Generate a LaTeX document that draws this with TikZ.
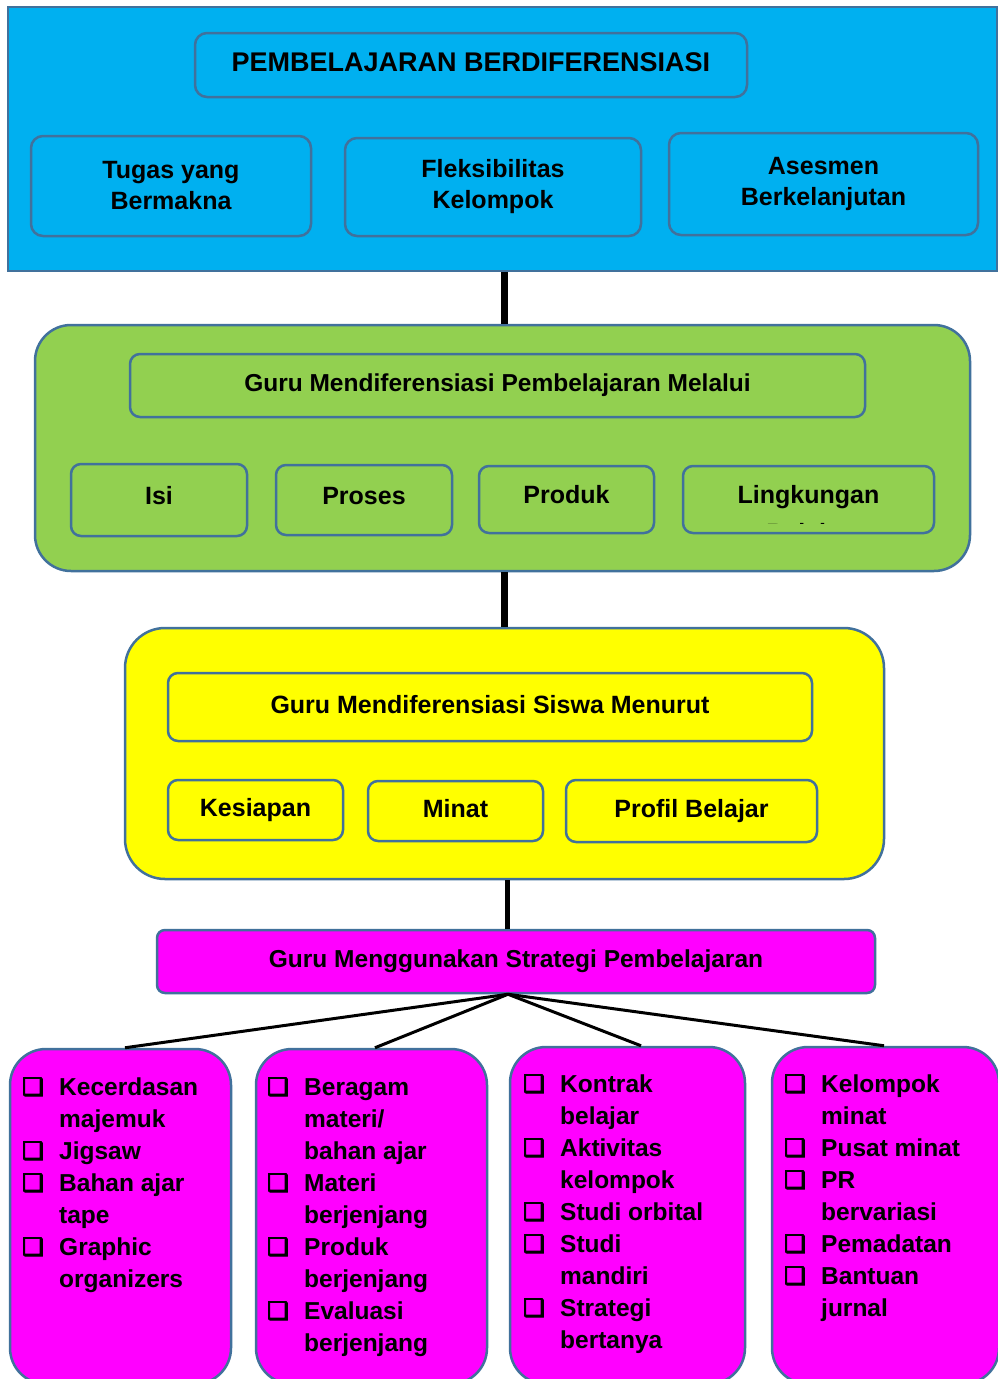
\documentclass[tikz,border=0pt]{standalone}
\usepackage{fontspec}
\setmainfont{Liberation Sans}
\newfontfamily\symf{DejaVu Sans}[FakeBold=4]
\definecolor{cblue}{HTML}{00B0F0}
\definecolor{cgreen}{HTML}{92D050}
\definecolor{cyel}{HTML}{FFFF00}
\definecolor{cmag}{HTML}{FF00FF}
\definecolor{bord}{HTML}{41719C}
\newcommand\mylist[5]{%
  \foreach \f/\t [count=\i] in {#5} {
    \node[item] (#1t\i) at (#3, {#4+32*(\i-1)}) {\t};
    \ifnum\f=1 \node[bul] (#1b\i) at (#2, {#4+32*(\i-1)}) {❑};\fi
  }}
\begin{document}
\begin{tikzpicture}[x=1pt,y=-1pt,
  box/.style={draw=bord, line width=2.5pt, rounded corners=12pt, inner sep=0pt,
    font=\bfseries\fontsize{25}{31}\selectfont, align=center},
  one/.style={text height=18pt, text depth=6pt},
  up/.style={text height=18pt, text depth=10pt},
  conn/.style={line width=7pt, black},
  fanl/.style={line width=3pt, black},
  item/.style={anchor=base west, inner sep=0pt, font=\bfseries\fontsize{24.5}{32}\selectfont},
  bul/.style={anchor=base west, inner sep=0pt, font=\symf\bfseries\fontsize{24}{24}\selectfont},
]
\useasboundingbox (0,0) rectangle (997,1379);
\fill[white] (0,0) rectangle (997,1379);

% top blue block
\node[box, sharp corners, fill=cblue, line width=2pt, minimum width=989pt, minimum height=264pt] (blue) at (502.5,139) {};
\node[box, one, fill=cblue, minimum width=552pt, minimum height=64pt, font=\bfseries\fontsize{27}{31}\selectfont] (title) at (471,65) {PEMBELAJARAN BERDIFERENSIASI};
\node[box, fill=cblue, minimum width=280pt, minimum height=100pt] (tugas) at (171,186) {Tugas yang\\Bermakna};
\node[box, fill=cblue, minimum width=296pt, minimum height=98pt] (fleks) at (493,187) {Fleksibilitas\\Kelompok};
\node[box, fill=cblue, minimum width=309pt, minimum height=102pt] (ases) at (823.5,184) {Asesmen\\Berkelanjutan};

% green block
\node[box, rounded corners=36pt, fill=cgreen, minimum width=935pt, minimum height=246pt] (green) at (502.5,448) {};
\node[box, one, rounded corners=10pt, fill=cgreen, minimum width=735pt, minimum height=63pt, font=\bfseries\fontsize{24.5}{31}\selectfont] (melalui) at (497.5,385.5) {Guru Mendiferensiasi Pembelajaran Melalui};
\node[box, up, rounded corners=10pt, fill=cgreen, minimum width=176pt, minimum height=72pt] (isi) at (159,500) {Isi};
\node[box, up, rounded corners=10pt, fill=cgreen, minimum width=176pt, minimum height=70pt] (proses) at (364,500) {Proses};
\node[box, up, rounded corners=10pt, fill=cgreen, minimum width=175pt, minimum height=67pt] (produk) at (566.5,499.5) {Produk};
\node[box, up, rounded corners=10pt, fill=cgreen, minimum width=251pt, minimum height=67pt] (lingk) at (808.5,499.5) {Lingkungan};
\begin{scope}
  \clip (690,470) rectangle (930,523);
  \node[anchor=base, inner sep=0pt, font=\bfseries\fontsize{25}{31}\selectfont] (lingb) at (808,541) {Belajar};
\end{scope}

% yellow block
\node[box, rounded corners=40pt, fill=cyel, minimum width=759pt, minimum height=251pt] (yellow) at (504.5,753.5) {};
\node[box, one, rounded corners=10pt, fill=cyel, minimum width=644pt, minimum height=68pt] (menurut) at (490,707) {Guru Mendiferensiasi Siswa Menurut};
\node[box, one, rounded corners=10pt, fill=cyel, minimum width=175pt, minimum height=60pt] (kes) at (255.5,810) {Kesiapan};
\node[box, one, rounded corners=10pt, fill=cyel, minimum width=175pt, minimum height=60pt] (minat) at (455.5,811) {Minat};
\node[box, one, rounded corners=10pt, fill=cyel, minimum width=251pt, minimum height=62pt] (profil) at (691.5,811) {Profil Belajar};

% strategy
\node[box, one, rounded corners=8pt, fill=cmag, minimum width=718pt, minimum height=63pt, font=\bfseries\fontsize{24.5}{31}\selectfont] (strat) at (516,961.5) {Guru Menggunakan Strategi Pembelajaran};

% list boxes
\node[box, rounded corners=36pt, fill=cmag, minimum width=221pt, minimum height=335pt] (l1) at (120.5,1216.5) {};
\node[box, rounded corners=36pt, fill=cmag, minimum width=231pt, minimum height=335pt] (l2) at (371.5,1216.5) {};
\node[box, rounded corners=36pt, fill=cmag, minimum width=235pt, minimum height=337pt] (l3) at (627.5,1215.5) {};
\node[box, rounded corners=36pt, fill=cmag, minimum width=227pt, minimum height=337pt] (l4) at (885.5,1215.5) {};

\mylist{a}{22}{59}{1095}{1/Kecerdasan, 0/majemuk, 1/Jigsaw, 1/Bahan ajar, 0/tape, 1/Graphic, 0/organizers}
\mylist{b}{267}{304}{1095}{1/Beragam, 0/{materi/}, 0/bahan ajar, 1/Materi, 0/berjenjang, 1/Produk, 0/berjenjang, 1/Evaluasi, 0/berjenjang}
\mylist{c}{523}{560}{1092}{1/Kontrak, 0/belajar, 1/Aktivitas, 0/kelompok, 1/Studi orbital, 1/Studi, 0/mandiri, 1/Strategi, 0/bertanya}
\mylist{d}{784}{821}{1092}{1/Kelompok, 0/minat, 1/Pusat minat, 1/PR, 0/bervariasi, 1/Pemadatan, 1/Bantuan, 0/jurnal}

% connectors
\draw[conn] ([xshift=1.5pt]blue.south) -- ([xshift=1.5pt]green.north);
\draw[conn] ([xshift=1.5pt]green.south) -- ([xshift=1.5pt]green.south |- yellow.north);
\draw[line width=5pt] ([xshift=2.5pt]yellow.south) -- ([xshift=2.5pt]yellow.south |- strat.north);
\coordinate (fan) at ([xshift=-8pt]strat.south);
\draw[fanl] (fan) -- ([xshift=4.5pt]l1.north);
\draw[fanl] (fan) -- ([xshift=3.5pt]l2.north);
\draw[fanl] (fan) -- ([xshift=13.5pt]l3.north);
\draw[fanl] (fan) -- ([xshift=-1.5pt]l4.north);
\end{tikzpicture}
\end{document}
